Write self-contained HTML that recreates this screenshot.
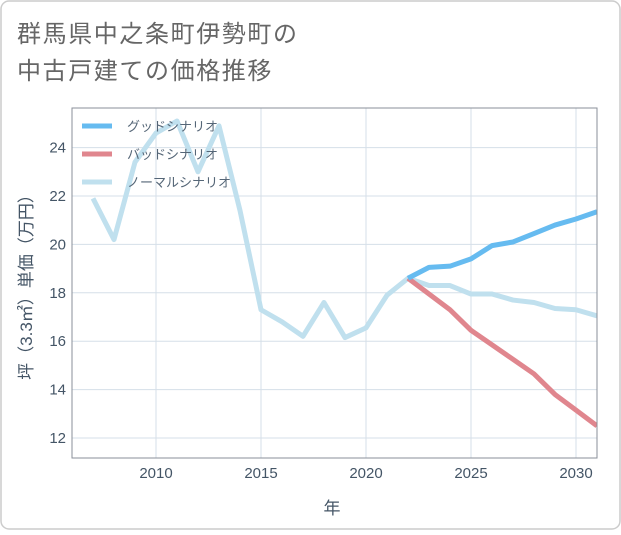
<!DOCTYPE html>
<html><head><meta charset="utf-8"><style>
body{margin:0;background:#fff;}
svg text{font-family:"Liberation Sans","Noto Sans CJK JP",sans-serif;}
</style></head><body>
<svg width="621" height="530" xmlns="http://www.w3.org/2000/svg">
<rect x="1" y="1" width="619" height="528" rx="8" fill="#fff" stroke="#ccc" stroke-width="1.5"/>
<text x="17" y="42" font-size="24" fill="#666" letter-spacing="1.6">群馬県中之条町伊勢町の</text>
<text x="17" y="79" font-size="24" fill="#666" letter-spacing="1.6">中古戸建ての価格推移</text>
<g id="grid"></g>
<g id="series"></g>
<rect x="72" y="108" width="525" height="350" fill="none" stroke="#8a8f99" stroke-width="1"/>
<g id="axes"></g>
<text x="332" y="514" font-size="17" fill="#445566" text-anchor="middle">年</text>
<text transform="translate(32,283) rotate(-90)" font-size="17" fill="#445566" text-anchor="middle">坪（3.3㎡）単価（万円）</text>
<g id="legend"></g>
</svg>
<script>
const xTicks=[2010,2015,2020,2025,2030];
const yTicks=[12,14,16,18,20,22,24];
const normalYears=[2007,2008,2009,2010,2011,2012,2013,2014,2015,2016,2017,2018,2019,2020,2021,2022,2023,2024,2025,2026,2027,2028,2029,2030,2031];
const normalVals=[21.9,20.2,23.4,24.6,25.1,23.0,24.9,21.4,17.3,16.8,16.2,17.6,16.15,16.55,17.9,18.6,18.3,18.3,17.95,17.95,17.7,17.6,17.35,17.3,17.05];
const futureYears=[2022,2023,2024,2025,2026,2027,2028,2029,2030,2031];
const goodVals=[18.6,19.05,19.1,19.4,19.95,20.1,20.45,20.8,21.05,21.35];
const badVals=[18.6,17.95,17.3,16.45,15.85,15.25,14.65,13.8,13.15,12.5];
const legendLabels=["グッドシナリオ","バッドシナリオ","ノーマルシナリオ"];
const ns="http://www.w3.org/2000/svg";
const X=y=>156+(y-2010)*21;
const Y=v=>438-(v-12)*24.2;
function mk(tag,attrs,parent){const e=document.createElementNS(ns,tag);for(const k in attrs)e.setAttribute(k,attrs[k]);parent.appendChild(e);return e;}
const grid=document.getElementById('grid'),axes=document.getElementById('axes'),series=document.getElementById('series'),legend=document.getElementById('legend');
xTicks.forEach(t=>{
 const l=mk('line',{x1:X(t),x2:X(t),y1:108,y2:458,stroke:'#d5dfe8','stroke-width':1},grid);
 
 
 const tx=mk('text',{x:X(t),y:478,'font-size':15,fill:'#445566','text-anchor':'middle'},axes);tx.textContent=t;
 
 
});
yTicks.forEach(t=>{
 const l=mk('line',{x1:72,x2:597,y1:Y(t),y2:Y(t),stroke:'#d5dfe8','stroke-width':1},grid);
 
 
 const tx=mk('text',{x:66,y:Y(t)+5,'font-size':15,fill:'#445566','text-anchor':'end'},axes);tx.textContent=t;
 
 
});
function line(xs,vs,color,name){
 const p=mk('polyline',{points:xs.map((x,i)=>X(x)+','+Y(vs[i])).join(' '),fill:'none',stroke:color,'stroke-width':5,'stroke-linejoin':'round'},series);
 
 
}
const cp=mk('clipPath',{id:'cp'},series);mk('rect',{x:72,y:108,width:525,height:350},cp);
series.setAttribute('clip-path','url(#cp)');
line(normalYears,normalVals,'#c0e0ee','normal-scenario-line');
line(futureYears,badVals,'#e0868e','bad-scenario-line');
line(futureYears,goodVals,'#66bbf0','good-scenario-line');
const lc=['#66bbf0','#e0868e','#c0e0ee'];
legendLabels.forEach((lab,i)=>{
 const y=126+i*28;
 const l=mk('line',{x1:82,x2:112,y1:y,y2:y,stroke:lc[i],'stroke-width':5},legend);
 
 
 const t=mk('text',{x:127,y:y+5,'font-size':13,fill:'#556677'},legend);t.textContent=lab;
 
 
});
</script>
</body></html>
